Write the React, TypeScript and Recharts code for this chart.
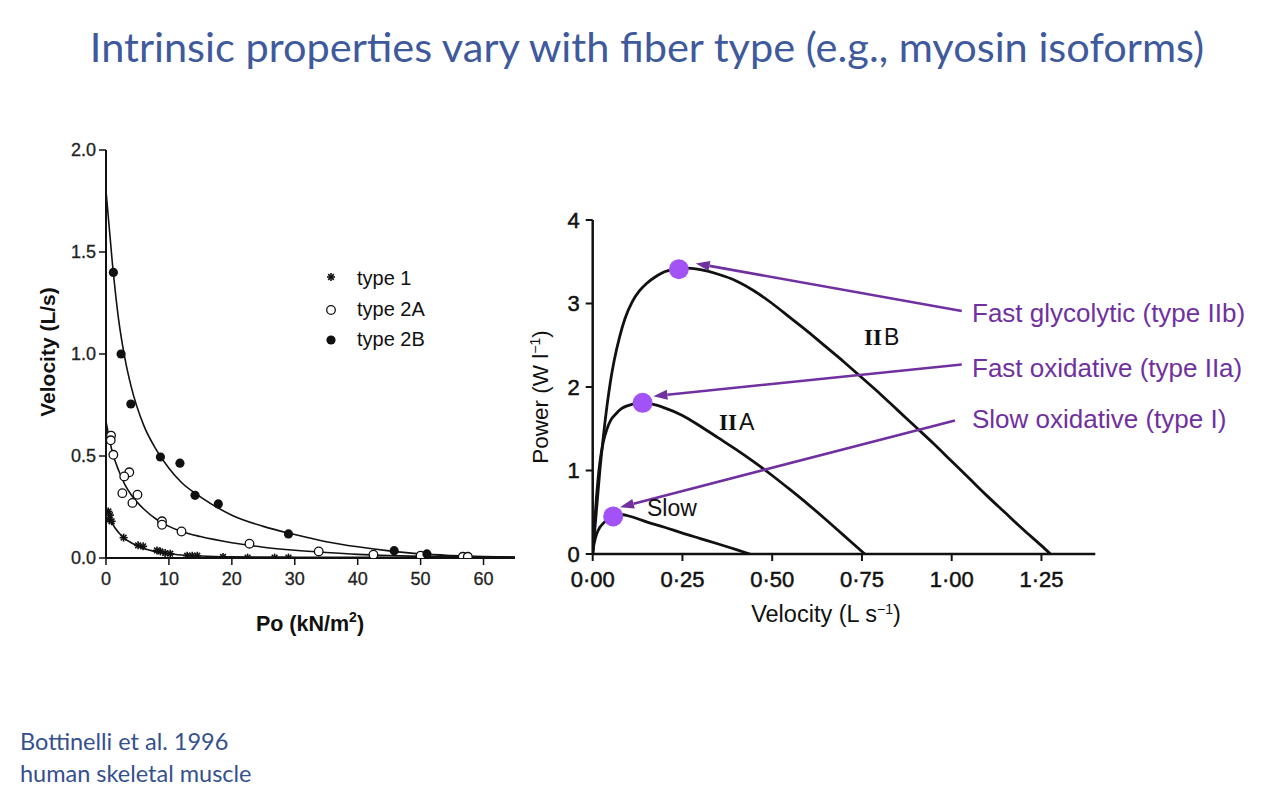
import React from 'react';
import { ComposedChart, Line, Scatter, XAxis, YAxis, ReferenceLine } from 'recharts';

// ---------- Left chart (force-velocity) ----------
const poTicks = [0, 10, 20, 30, 40, 50, 60];
const velocityTicks = [0, 0.5, 1, 1.5, 2];

const type1Points = [
  { p: 0.37, v: 0.228 }, { p: 0.64, v: 0.21 }, { p: 0.53, v: 0.188 }, { p: 0.9, v: 0.18 },
  { p: 2.8, v: 0.1 }, { p: 5.1, v: 0.062 }, { p: 5.9, v: 0.057 },
  { p: 8.1, v: 0.037 }, { p: 8.65, v: 0.032 }, { p: 9.4, v: 0.024 }, { p: 10.2, v: 0.021 },
  { p: 12.9, v: 0.011 }, { p: 13.7, v: 0.011 }, { p: 14.5, v: 0.011 },
  { p: 18.6, v: 0.005 }, { p: 22.5, v: 0.002 }, { p: 26.8, v: 0.002 }, { p: 29.0, v: 0.002 },
  { p: 49.7, v: 0.002 },
];
const type2APoints = [
  { p: 0.8, v: 0.6 }, { p: 0.75, v: 0.577 }, { p: 1.17, v: 0.506 }, { p: 3.7, v: 0.42 },
  { p: 2.9, v: 0.4 }, { p: 2.6, v: 0.318 }, { p: 5.0, v: 0.31 }, { p: 4.2, v: 0.27 },
  { p: 8.9, v: 0.18 }, { p: 8.9, v: 0.163 }, { p: 12.0, v: 0.13 }, { p: 22.8, v: 0.07 },
  { p: 33.8, v: 0.032 }, { p: 42.5, v: 0.016 }, { p: 50.0, v: 0.011 }, { p: 56.7, v: 0.006 },
  { p: 57.5, v: 0.006 },
];
const type2BPoints = [
  { p: 1.17, v: 1.4 }, { p: 2.4, v: 1.0 }, { p: 3.95, v: 0.755 }, { p: 8.65, v: 0.495 },
  { p: 11.75, v: 0.465 }, { p: 14.15, v: 0.307 }, { p: 17.85, v: 0.265 }, { p: 29.0, v: 0.118 },
  { p: 45.8, v: 0.036 }, { p: 51.0, v: 0.02 },
];

const curveType1 = [
  { p: 0, v: 0.25 }, { p: 1, v: 0.17 }, { p: 2, v: 0.125 }, { p: 3, v: 0.095 }, { p: 4, v: 0.075 },
  { p: 6, v: 0.047 }, { p: 8, v: 0.031 }, { p: 10, v: 0.021 }, { p: 12, v: 0.015 }, { p: 15, v: 0.01 },
  { p: 20, v: 0.006 }, { p: 30, v: 0.004 }, { p: 40, v: 0.003 }, { p: 50, v: 0.003 }, { p: 65, v: 0.003 },
];
const curveType2A = [
  { p: 0, v: 0.67 }, { p: 1, v: 0.52 }, { p: 2, v: 0.43 }, { p: 3, v: 0.36 }, { p: 4, v: 0.31 },
  { p: 6, v: 0.24 }, { p: 8, v: 0.19 }, { p: 10, v: 0.155 }, { p: 12, v: 0.13 }, { p: 15, v: 0.105 },
  { p: 20, v: 0.075 }, { p: 25, v: 0.053 }, { p: 30, v: 0.038 }, { p: 35, v: 0.027 }, { p: 40, v: 0.018 },
  { p: 45, v: 0.012 }, { p: 50, v: 0.008 }, { p: 55, v: 0.006 }, { p: 60, v: 0.005 }, { p: 65, v: 0.004 },
];
const curveType2B = [
  { p: 0, v: 1.8 }, { p: 1, v: 1.45 }, { p: 2, v: 1.17 }, { p: 3, v: 0.98 }, { p: 4, v: 0.84 },
  { p: 6, v: 0.65 }, { p: 8, v: 0.53 }, { p: 10, v: 0.44 }, { p: 12, v: 0.37 }, { p: 15, v: 0.3 },
  { p: 20, v: 0.21 }, { p: 25, v: 0.155 }, { p: 30, v: 0.115 }, { p: 35, v: 0.08 }, { p: 40, v: 0.055 },
  { p: 45, v: 0.035 }, { p: 50, v: 0.02 }, { p: 55, v: 0.012 }, { p: 60, v: 0.007 }, { p: 65, v: 0.004 },
];

const legendItems = ['type 1', 'type 2A', 'type 2B'];

// ---------- Right chart (power-velocity) ----------
const speedTicks = [0, 0.25, 0.5, 0.75, 1, 1.25];
const powerTicks = [0, 1, 2, 3, 4];

const curveIIB = [
  { s: 0, w: 0 }, { s: 0.01, w: 0.5 }, { s: 0.02, w: 1.0 }, { s: 0.03, w: 1.42 }, { s: 0.04, w: 1.78 },
  { s: 0.05, w: 2.08 }, { s: 0.06, w: 2.32 }, { s: 0.075, w: 2.6 }, { s: 0.09, w: 2.82 }, { s: 0.11, w: 3.02 },
  { s: 0.13, w: 3.15 }, { s: 0.15, w: 3.24 }, { s: 0.175, w: 3.32 }, { s: 0.2, w: 3.38 }, { s: 0.225, w: 3.41 },
  { s: 0.25, w: 3.425 }, { s: 0.275, w: 3.42 }, { s: 0.3, w: 3.405 }, { s: 0.35, w: 3.35 }, { s: 0.4, w: 3.27 },
  { s: 0.45, w: 3.15 }, { s: 0.5, w: 3.0 }, { s: 0.55, w: 2.83 }, { s: 0.6, w: 2.66 }, { s: 0.65, w: 2.48 },
  { s: 0.7, w: 2.3 }, { s: 0.75, w: 2.11 }, { s: 0.8, w: 1.92 }, { s: 0.85, w: 1.72 }, { s: 0.9, w: 1.52 },
  { s: 0.95, w: 1.32 }, { s: 1.0, w: 1.11 }, { s: 1.05, w: 0.9 }, { s: 1.1, w: 0.69 }, { s: 1.15, w: 0.49 },
  { s: 1.2, w: 0.29 }, { s: 1.25, w: 0.1 }, { s: 1.275, w: 0 },
];
const curveIIA = [
  { s: 0, w: 0 }, { s: 0.005, w: 0.35 }, { s: 0.01, w: 0.65 }, { s: 0.02, w: 1.1 }, { s: 0.03, w: 1.35 },
  { s: 0.04, w: 1.5 }, { s: 0.05, w: 1.6 }, { s: 0.065, w: 1.68 }, { s: 0.08, w: 1.74 }, { s: 0.1, w: 1.78 },
  { s: 0.125, w: 1.805 }, { s: 0.15, w: 1.805 }, { s: 0.175, w: 1.785 }, { s: 0.2, w: 1.75 }, { s: 0.25, w: 1.66 },
  { s: 0.3, w: 1.53 }, { s: 0.35, w: 1.39 }, { s: 0.4, w: 1.25 }, { s: 0.45, w: 1.1 }, { s: 0.5, w: 0.94 },
  { s: 0.55, w: 0.77 }, { s: 0.6, w: 0.595 }, { s: 0.65, w: 0.41 }, { s: 0.7, w: 0.22 }, { s: 0.75, w: 0.03 },
  { s: 0.758, w: 0 },
];
const curveSlow = [
  { s: 0, w: 0 }, { s: 0.003, w: 0.1 }, { s: 0.007, w: 0.18 }, { s: 0.012, w: 0.25 }, { s: 0.02, w: 0.32 },
  { s: 0.03, w: 0.37 }, { s: 0.04, w: 0.41 }, { s: 0.055, w: 0.445 }, { s: 0.07, w: 0.465 }, { s: 0.085, w: 0.47 },
  { s: 0.1, w: 0.455 }, { s: 0.15, w: 0.385 }, { s: 0.2, w: 0.32 }, { s: 0.25, w: 0.25 }, { s: 0.3, w: 0.185 },
  { s: 0.35, w: 0.12 }, { s: 0.4, w: 0.052 }, { s: 0.438, w: 0 },
];

const peakDots = [
  { s: 0.24, w: 3.41 },
  { s: 0.139, w: 1.81 },
  { s: 0.057, w: 0.45 },
];
const arrowSegments = [
  [{ x: 1.028, y: 2.91 }, { x: 0.287, y: 3.48 }],
  [{ x: 1.028, y: 2.27 }, { x: 0.169, y: 1.89 }],
  [{ x: 1.009, y: 1.6 }, { x: 0.076, y: 0.56 }],
];
const annotationLabels = ['Fast glycolytic (type IIb)', 'Fast oxidative (type IIa)', 'Slow oxidative (type I)'];

// ---------- Shapes ----------
const sans = 'Liberation Sans, Arial, Helvetica, sans-serif';
const calibriLike = "Lato, 'Open Sans', sans-serif";
const PURPLE = '#7030A0';

const Asterisk = ({ cx, cy }: any) => {
  const r = 4;
  const d = r * 0.707;
  return (
    <g stroke="#111" strokeWidth={1.6}>
      <line x1={cx - r} y1={cy} x2={cx + r} y2={cy} />
      <line x1={cx} y1={cy - r} x2={cx} y2={cy + r} />
      <line x1={cx - d} y1={cy - d} x2={cx + d} y2={cy + d} />
      <line x1={cx - d} y1={cy + d} x2={cx + d} y2={cy - d} />
    </g>
  );
};
const OpenCircle = ({ cx, cy }: any) => (
  <circle cx={cx} cy={cy} r={4.3} fill="#fff" stroke="#111" strokeWidth={1.3} />
);
const FilledCircle = ({ cx, cy }: any) => <circle cx={cx} cy={cy} r={4.6} fill="#111" />;
const PeakDot = ({ cx, cy }: any) => <circle cx={cx} cy={cy} r={10} fill="#A352F5" />;

const ArrowShape = (props: any) => {
  const { x1, y1, x2, y2 } = props;
  const dx = x2 - x1;
  const dy = y2 - y1;
  const len = Math.sqrt(dx * dx + dy * dy) || 1;
  const ux = dx / len;
  const uy = dy / len;
  const hl = 14;
  const hw = 5;
  const bx = x2 - ux * hl;
  const by = y2 - uy * hl;
  const nx = -uy;
  const ny = ux;
  return (
    <g>
      <line x1={x1} y1={y1} x2={bx} y2={by} stroke={PURPLE} strokeWidth={2.6} />
      <polygon
        points={`${x2},${y2} ${bx + nx * hw},${by + ny * hw} ${bx - nx * hw},${by - ny * hw}`}
        fill={PURPLE}
      />
    </g>
  );
};

const legendShapes = [Asterisk, OpenCircle, FilledCircle];

const leftTick = { fill: '#222', fontSize: 18, fontFamily: sans, stroke: '#222', strokeWidth: 0.3 };
const rightTick = { fill: '#111', fontSize: 22, fontFamily: sans, stroke: '#111', strokeWidth: 0.5 };

export default function App() {
  return (
    <div style={{ position: 'absolute', left: 0, top: 0, width: 1280, height: 800, background: '#fff', overflow: 'hidden' }}>
      {/* Left chart */}
      <div style={{ position: 'absolute', left: 0, top: 0 }}>
        <ComposedChart width={560} height={660} margin={{ top: 150, right: 45, bottom: 72, left: 46 }}>
          <XAxis
            type="number"
            dataKey="p"
            domain={[0, 65]}
            ticks={poTicks}
            interval={0}
            allowDataOverflow
            height={30}
            tickSize={7}
            tickMargin={7}
            axisLine={{ stroke: '#111', strokeWidth: 2 }}
            tickLine={{ stroke: '#111', strokeWidth: 1.5 }}
            tick={leftTick}
          />
          <YAxis
            type="number"
            dataKey="v"
            domain={[0, 2]}
            ticks={velocityTicks}
            interval={0}
            allowDataOverflow
            width={60}
            tickSize={7}
            tickMargin={3}
            tickFormatter={(v: number) => v.toFixed(1)}
            axisLine={{ stroke: '#111', strokeWidth: 2 }}
            tickLine={{ stroke: '#111', strokeWidth: 1.5 }}
            tick={leftTick}
          />
          <Line data={curveType2B} dataKey="v" type="monotone" stroke="#111" strokeWidth={1.6} dot={false} isAnimationActive={false} />
          <Line data={curveType2A} dataKey="v" type="monotone" stroke="#111" strokeWidth={1.6} dot={false} isAnimationActive={false} />
          <Line data={curveType1} dataKey="v" type="monotone" stroke="#111" strokeWidth={1.6} dot={false} isAnimationActive={false} />
          <Scatter data={type1Points} dataKey="v" shape={(p: any) => <Asterisk cx={p.cx} cy={p.cy} />} isAnimationActive={false} />
          <Scatter data={type2APoints} dataKey="v" shape={(p: any) => <OpenCircle cx={p.cx} cy={p.cy} />} isAnimationActive={false} />
          <Scatter data={type2BPoints} dataKey="v" shape={(p: any) => <FilledCircle cx={p.cx} cy={p.cy} />} isAnimationActive={false} />
        </ComposedChart>
      </div>

      {/* Right chart */}
      <div style={{ position: 'absolute', left: 480, top: 0 }}>
        <ComposedChart width={800} height={660} margin={{ top: 220, right: 184.7, bottom: 76, left: 52.7 }}>
          <XAxis
            type="number"
            dataKey="s"
            domain={[0, 1.4]}
            ticks={speedTicks}
            interval={0}
            allowDataOverflow
            height={30}
            tickSize={7}
            tickMargin={10}
            tickFormatter={(v: number) => v.toFixed(2).replace('.', '\u00B7')}
            axisLine={{ stroke: '#111', strokeWidth: 2.5 }}
            tickLine={{ stroke: '#111', strokeWidth: 2 }}
            tick={rightTick}
          />
          <YAxis
            type="number"
            dataKey="w"
            domain={[0, 4]}
            ticks={powerTicks}
            interval={0}
            allowDataOverflow
            width={60}
            tickSize={7}
            tickMargin={6}
            axisLine={{ stroke: '#111', strokeWidth: 2.5 }}
            tickLine={{ stroke: '#111', strokeWidth: 2 }}
            tick={rightTick}
          />
          <Line data={curveIIB} dataKey="w" type="monotone" stroke="#111" strokeWidth={2.8} dot={false} isAnimationActive={false} />
          <Line data={curveIIA} dataKey="w" type="monotone" stroke="#111" strokeWidth={2.8} dot={false} isAnimationActive={false} />
          <Line data={curveSlow} dataKey="w" type="monotone" stroke="#111" strokeWidth={2.8} dot={false} isAnimationActive={false} />
          {arrowSegments.map((seg, i) => (
            <ReferenceLine key={i} segment={seg} shape={ArrowShape} ifOverflow="visible" />
          ))}
          <Scatter data={peakDots} dataKey="w" shape={(p: any) => <PeakDot cx={p.cx} cy={p.cy} />} isAnimationActive={false} />
        </ComposedChart>
      </div>

      {/* Text overlay */}
      <svg width={1280} height={800} style={{ position: 'absolute', left: 0, top: 0, pointerEvents: 'none' }}>
        <text x={647} y={62} textAnchor="middle" fontFamily={calibriLike} fontSize={41.5} fill="#3F5A9C">
          Intrinsic properties vary with fiber type (e.g., myosin isoforms)
        </text>
        <text x={20} y={750} fontFamily={calibriLike} fontSize={23.5} fill="#34508F">Bottinelli et al. 1996</text>
        <text x={20} y={782} fontFamily={calibriLike} fontSize={23.5} fill="#34508F">human skeletal muscle</text>

        {/* left chart labels */}
        <text transform="translate(55,352) rotate(-90)" textAnchor="middle" fontFamily={sans} fontWeight="bold" fontSize={21} fill="#111">
          Velocity (L/s)
        </text>
        <text x={310} y={631} textAnchor="middle" fontFamily={sans} fontWeight="bold" fontSize={21.5} fill="#111">
          Po (kN/m<tspan dy={-9} fontSize={14}>2</tspan><tspan dy={9}>)</tspan>
        </text>
        {legendItems.map((t, i) => {
          const S = legendShapes[i];
          const ys = [277, 310, 340];
          const bs = [285, 316, 346];
          return (
            <g key={t}>
              <S cx={331} cy={ys[i]} />
              <text x={357} y={bs[i]} fontFamily={sans} fontSize={20} fill="#111">{t}</text>
            </g>
          );
        })}

        {/* right chart labels */}
        <text transform="translate(548,397) rotate(-90)" textAnchor="middle" fontFamily={sans} fontSize={22.5} fill="#111">
          Power (W l<tspan dy={-8} fontSize={14}>{'\u2212'}1</tspan><tspan dy={8}>)</tspan>
        </text>
        <text x={826} y={622} textAnchor="middle" fontFamily={sans} fontSize={23.5} fill="#111">
          Velocity (L s<tspan dy={-8} fontSize={14}>{'\u2212'}1</tspan><tspan dy={8}>)</tspan>
        </text>
        <text x={864} y={345} fontSize={23} fill="#111"><tspan fontFamily="Liberation Serif, serif" fontWeight="bold">II</tspan><tspan fontFamily={sans} dx={2}>B</tspan></text>
        <text x={719} y={430} fontSize={23} fill="#111"><tspan fontFamily="Liberation Serif, serif" fontWeight="bold">II</tspan><tspan fontFamily={sans} dx={2}>A</tspan></text>
        <text x={647} y={516} fontFamily={sans} fontSize={23} fill="#111">Slow</text>

        {annotationLabels.map((t, i) => (
          <text key={t} x={972} y={[322, 377, 428][i]} fontFamily={sans} fontSize={26} fill={PURPLE}>{t}</text>
        ))}
      </svg>
    </div>
  );
}
